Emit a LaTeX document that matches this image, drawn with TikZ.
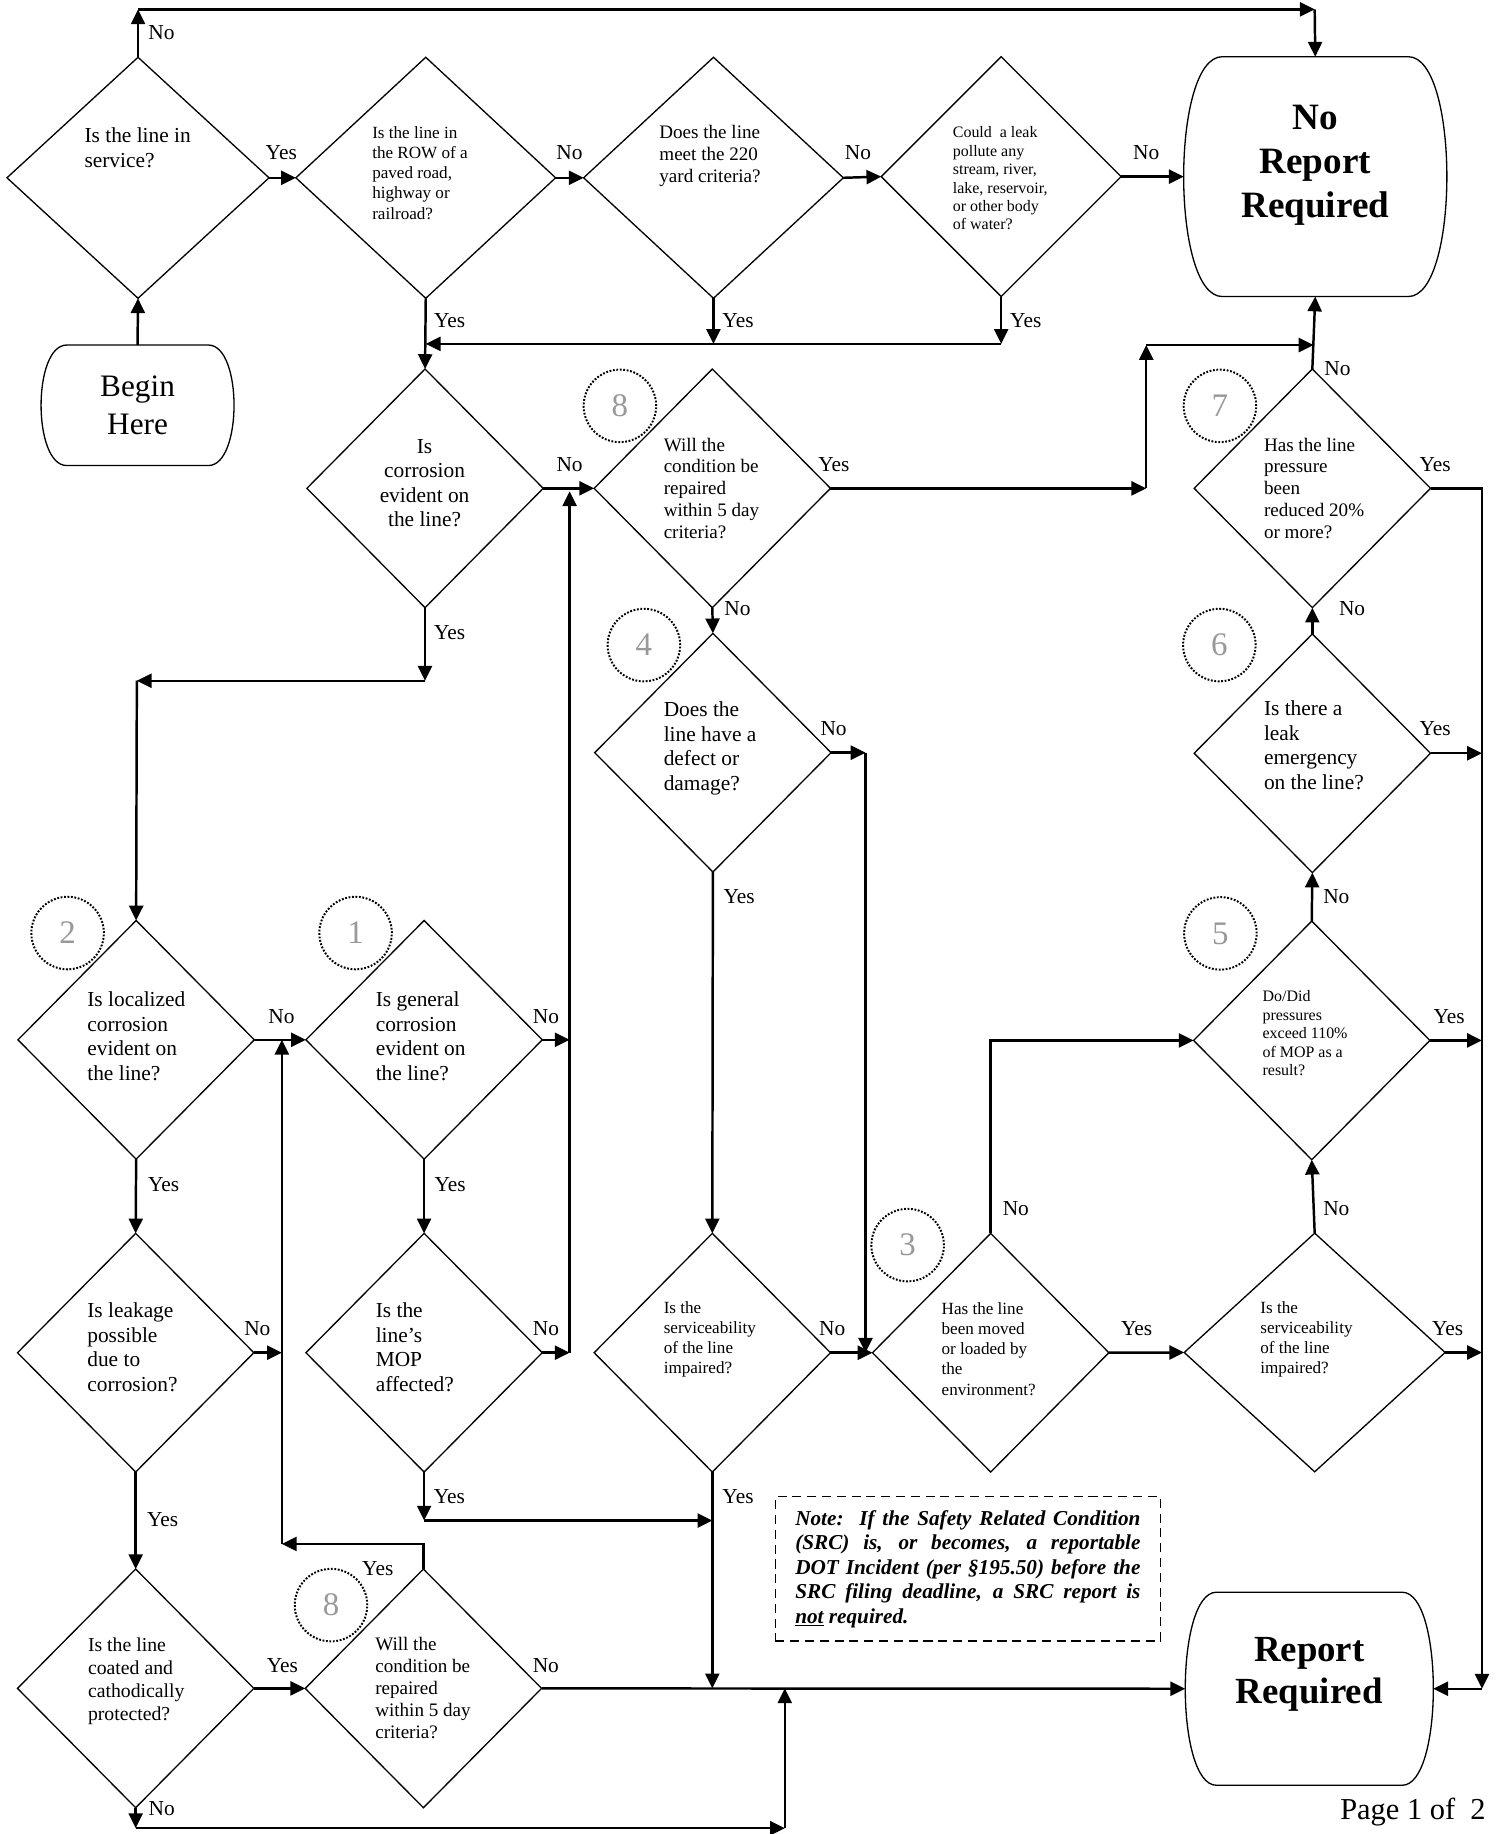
\documentclass[tikz,border=0pt]{standalone}
\usepackage{fontspec}
\setmainfont{Liberation Serif}
\usetikzlibrary{shapes.geometric,arrows.meta}

\begin{document}
\begin{tikzpicture}[x=0.025cm, y=-0.025cm,
    question/.style={diamond, draw, line width=0.8pt, inner sep=0pt, outer sep=0pt, minimum width=5.05cm, minimum height=5.1cm},
    terminal/.style={rectangle, inner sep=0pt, outer sep=0pt},
    outline/.style={line width=0.8pt},
    qtext/.style={anchor=west, align=left, inner sep=0pt},
    q13/.style={qtext, font=\fontsize{13}{14.9}\selectfont},
    q12/.style={qtext, font=\fontsize{12}{13.9}\selectfont},
    q11/.style={qtext, font=\fontsize{11.6}{13.3}\selectfont},
    q10/.style={qtext, font=\fontsize{10.4}{12.2}\selectfont},
    q9/.style={qtext, font=\fontsize{9.7}{11.2}\selectfont},
    answer/.style={inner sep=0pt, font=\fontsize{13}{15}\selectfont},
    big/.style={inner sep=0pt, align=center, font=\bfseries\fontsize{22.6}{26.7}\selectfont},
    circled/.style={circle, draw, line width=1.2pt, dash pattern=on 1.1pt off 1pt, minimum size=1.55cm, inner sep=0pt, text=black!40, font=\fontsize{20}{24}\selectfont},
    arr/.style={-{Triangle[length=9pt,width=8.5pt]}, line width=1.5pt}]

\useasboundingbox (0,0) rectangle (1280,1568);

\node[question, minimum width=5.6cm, minimum height=5.15cm] (service) at (118,152) {};
\node[q13] (service_t) at (72,126.5) {Is the line in\\service?};
\node[question, minimum width=5.55cm, minimum height=5.15cm] (row) at (364,152) {};
\node[q10] (row_t) at (318,148) {Is the line in\\the ROW of a\\paved road,\\highway or\\railroad?};
\node[question, minimum width=5.55cm, minimum height=5.15cm] (yard) at (610,152) {};
\node[q11] (yard_t) at (563.5,133) {Does the line\\meet the 220\\yard criteria?};
\node[question, minimum width=5.125cm, minimum height=5.125cm] (water) at (856,151) {};
\node[q9] (water_t) at (814.4,152.5) {Could\ \ a leak\\pollute any\\stream, river,\\lake, reservoir,\\or other body\\of water?};
\node[terminal, minimum width=5.625cm, minimum height=5.125cm] (noreport) at (1124.5,151) {};
\draw[outline] ([xshift=0.825cm]noreport.north west) -- ([xshift=-0.825cm]noreport.north east)
  .. controls +(44,0) and +(44,0) .. ([xshift=-0.825cm]noreport.south east)
  -- ([xshift=0.825cm]noreport.south west)
  .. controls +(-44,0) and +(-44,0) .. cycle;
\node[big] (noreport_t) at (1124.5,141) {No\\Report\\Required};
\node[terminal, minimum width=4.125cm, minimum height=2.575cm, align=center, font=\fontsize{19}{22.8}\selectfont] (begin) at (117.6,346.5) {Begin\\Here};
\draw[outline] ([xshift=0.55cm]begin.north west) -- ([xshift=-0.55cm]begin.north east)
  .. controls +(29.3,0) and +(29.3,0) .. ([xshift=-0.55cm]begin.south east)
  -- ([xshift=0.55cm]begin.south west)
  .. controls +(-29.3,0) and +(-29.3,0) .. cycle;

\node[question] (corrosion) at (363.4,417.5) {};
\node[q13, anchor=center, align=center] (corrosion_t) at (363,413) {Is\\corrosion\\evident on\\the line?};
\node[question] (repair) at (609,417.5) {};
\node[q11] (repair_t) at (567.2,417.5) {Will the\\condition be\\repaired\\within 5 day\\criteria?};
\node[question] (pressure) at (1122,417.5) {};
\node[q11] (pressure_t) at (1080.4,417.5) {Has the line\\pressure\\been\\reduced 20\%\\or more?};

\node[question] (defect) at (609.5,643.5) {};
\node[q13] (defect_t) at (567.2,640) {Does the\\line have a\\defect or\\damage?};
\node[question] (emergency) at (1122,644) {};
\node[q13] (emergency_t) at (1080.4,637) {Is there a\\leak\\emergency\\on the line?};

\node[question] (localized) at (116.4,889) {};
\node[q13] (localized_t) at (74.4,886) {Is localized\\corrosion\\evident on\\the line?};
\node[question] (general) at (362.6,889) {};
\node[q13] (general_t) at (321,886) {Is general\\corrosion\\evident on\\the line?};
\node[question] (exceed) at (1121.5,889.5) {};
\node[q9] (exceed_t) at (1079.2,883.5) {Do/Did\\pressures\\exceed 110\%\\of MOP as a\\result?};

\node[question] (leakage) at (116,1156.5) {};
\node[q13] (leakage_t) at (74.4,1152) {Is leakage\\possible\\due to\\corrosion?};
\node[question] (mop) at (362.6,1156.5) {};
\node[q13] (mop_t) at (321,1152) {Is the\\line’s\\MOP\\affected?};
\node[question] (impaired) at (609,1156.5) {};
\node[q10] (impaired_t) at (567.2,1145) {Is the\\serviceability\\of the line\\impaired?};
\node[question] (moved) at (847,1156.5) {};
\node[q10] (moved_t) at (804.8,1153.4) {Has the line\\been moved\\or loaded by\\the\\environment?};
\node[question, minimum width=5.575cm] (impaired_2) at (1124,1156.3) {};
\node[q10] (impaired_2_t) at (1077.3,1145) {Is the\\serviceability\\of the line\\impaired?};

\node[question] (coated) at (116,1443.5) {};
\node[q12] (coated_t) at (75,1437.5) {Is the line\\coated and\\cathodically\\protected?};
\node[question] (repair_2) at (362,1443.5) {};
\node[q11] (repair_2_t) at (320.6,1443) {Will the\\condition be\\repaired\\within 5 day\\criteria?};
\node[terminal, minimum width=5.3cm, minimum height=4.125cm] (report) at (1119.4,1443.8) {};
\draw[outline] ([xshift=0.665cm]report.north west) -- ([xshift=-0.665cm]report.north east)
  .. controls +(35.5,0) and +(35.5,0) .. ([xshift=-0.665cm]report.south east)
  -- ([xshift=0.665cm]report.south west)
  .. controls +(-35.5,0) and +(-35.5,0) .. cycle;
\node[big, font=\bfseries\fontsize{22.4}{25.6}\selectfont] (report_t) at (1119.4,1431.4) {Report\\Required};

\node[draw, line width=0.9pt, dash pattern=on 5.5pt off 3.5pt, text width=7.375cm, inner xsep=0.425cm, inner ysep=0pt, minimum height=3.085cm, align=justify, font=\bfseries\itshape\fontsize{12.9}{14.9}\selectfont] (note) at (827.5,1341.3) {Note:\ \ If the Safety Related Condition\linebreak (SRC) is, or becomes, a reportable\linebreak DOT Incident (per §195.50) before the\linebreak SRC filing deadline, a SRC report is\linebreak \underline{not} required.};
\node[inner sep=0pt, font=\fontsize{18.5}{22}\selectfont] (page) at (1208,1549) {Page 1 of\ \ 2};

\node[circled] (n8) at (530,347) {8};
\node[circled] (n7) at (1043,347) {7};
\node[circled] (n4) at (550.5,551.5) {4};
\node[circled] (n6) at (1042.5,551.5) {6};
\node[circled] (n2) at (57.8,797.7) {2};
\node[circled] (n1) at (304,797.7) {1};
\node[circled] (n5) at (1043.4,798) {5};
\node[circled] (n3) at (776,1064.5) {3};
\node[circled] (n8b) at (283,1372.3) {8};

\coordinate (top_l) at (118,8);
\coordinate (top_r) at (1124,8);
\coordinate (row_s) at (364,294);
\coordinate (yard_s) at (610,294);
\coordinate (water_s) at (856,294);
\coordinate (rep_in) at (487,420);
\coordinate (gen_e) at (487,889);
\coordinate (mop_e) at (487,1156.5);
\coordinate (corr_s) at (363.4,582);
\coordinate (loc_n) at (117,582);
\coordinate (rep_e) at (980,417.5);
\coordinate (rep_up) at (980,295);
\coordinate (pres_n) at (1123,295);
\coordinate (def_e) at (740,643.5);
\coordinate (def_dn) at (740,1156.5);
\coordinate (imp_s) at (609,1443.5);
\coordinate (mop_s) at (362.6,1300);
\coordinate (imp_w) at (609,1300);
\coordinate (rep2_n) at (362,1320);
\coordinate (byp_s) at (241,1320);
\coordinate (byp_n) at (241,889);
\coordinate (leak_e) at (241,1156.5);
\coordinate (coat_s) at (116,1563);
\coordinate (bot_r) at (671,1563);
\coordinate (bot_up) at (671,1443.5);
\coordinate (moved_up) at (847,889.5);
\coordinate (right_t) at (1267,417.5);
\coordinate (right_b) at (1267,1443.8);
\coordinate (em_e) at (1267,644);
\coordinate (ex_e) at (1267,889.5);
\coordinate (imp2_e) at (1267,1156.3);

\draw[arr] (begin.north) -- (service.south);
\draw[arr] (service.north) -- (top_l);
\draw[arr] (top_l) -- (top_r);
\draw[arr] (top_r) -- (noreport.north);
\draw[arr] (service.east) -- (row.west);
\draw[arr] (row.east) -- (yard.west);
\draw[arr] (yard.east) -- (water.west);
\draw[arr] (water.east) -- (noreport.west);
\draw[arr] (row.south) -- (corrosion.north);
\draw[arr] (yard.south) -- (yard_s);
\draw[arr] (water.south) -- (water_s);
\draw[arr] (water_s) -- (row_s);
\draw[arr] (corrosion.east) -- (repair.west);
\draw[arr] (general.east) -- (gen_e);
\draw[arr] (mop.east) -- (mop_e);
\draw[arr] (mop_e) -- (rep_in);
\draw[arr] (corrosion.south) -- (corr_s);
\draw[arr] (corr_s) -- (loc_n);
\draw[arr] (loc_n) -- (localized.north);
\draw[arr] (repair.east) -- (rep_e);
\draw[arr] (rep_e) -- (rep_up);
\draw[arr] (rep_up) -- (pres_n);
\draw[arr] (pressure.north) -- (noreport.south);
\draw[arr] (repair.south) -- (defect.north);
\draw[arr] (defect.east) -- (def_e);
\draw[arr] (def_e) -- (def_dn);
\draw[arr] (defect.south) -- (impaired.north);
\draw[arr] (impaired.east) -- (moved.west);
\draw[arr] (impaired.south) -- (imp_s);
\draw[arr] (mop.south) -- (mop_s);
\draw[arr] (mop_s) -- (imp_w);
\draw[arr] (repair_2.north) -- (rep2_n) -- (byp_s);
\draw[arr] (byp_s) -- (byp_n);
\draw[arr] (localized.east) -- (general.west);
\draw[arr] (leakage.east) -- (leak_e);
\draw[arr] (localized.south) -- (leakage.north);
\draw[arr] (general.south) -- (mop.north);
\draw[arr] (leakage.south) -- (coated.north);
\draw[arr] (coated.east) -- (repair_2.west);
\draw[arr] (repair_2.east) -- (report.west);
\draw[arr] (coated.south) -- (coat_s);
\draw[arr] (coat_s) -- (bot_r);
\draw[arr] (bot_r) -- (bot_up);
\draw[arr] (moved.east) -- (impaired_2.west);
\draw[arr] (moved.north) -- (moved_up) -- (exceed.west);
\draw[arr] (impaired_2.north) -- (exceed.south);
\draw[arr] (exceed.north) -- (emergency.south);
\draw[arr] (emergency.north) -- (pressure.south);
\draw[arr] (pressure.east) -- (right_t) -- (right_b);
\draw[arr] (right_b) -- (report.east);
\draw[arr] (emergency.east) -- (em_e);
\draw[arr] (exceed.east) -- (ex_e);
\draw[arr] (impaired_2.east) -- (imp2_e);

\node[answer] (service_no) at (138,28) {No};
\node[answer] (service_yes) at (240.5,130.4) {Yes};
\node[answer] (row_no) at (486.8,130.4) {No};
\node[answer] (yard_no) at (733.5,130.4) {No};
\node[answer] (water_no) at (980,130.4) {No};
\node[answer] (row_yes) at (384.5,274) {Yes};
\node[answer] (yard_yes) at (631,274) {Yes};
\node[answer] (water_yes) at (877,274) {Yes};
\node[answer] (pressure_no) at (1143.5,315.5) {No};
\node[answer] (corrosion_no) at (487,397.5) {No};
\node[answer] (repair_yes) at (713,397.5) {Yes};
\node[answer] (pressure_yes) at (1227,397.5) {Yes};
\node[answer] (repair_no) at (630.5,520) {No};
\node[answer] (emergency_no) at (1156,520) {No};
\node[answer] (corrosion_yes) at (384.5,540.6) {Yes};
\node[answer] (defect_no) at (712.7,623) {No};
\node[answer] (emergency_yes) at (1227,623) {Yes};
\node[answer] (defect_yes) at (632,766.6) {Yes};
\node[answer] (exceed_no) at (1142.5,766.6) {No};
\node[answer] (localized_no) at (240.6,869) {No};
\node[answer] (general_no) at (466.8,869) {No};
\node[answer] (exceed_yes) at (1239,869) {Yes};
\node[answer] (localized_yes) at (140,1013) {Yes};
\node[answer] (general_yes) at (384.8,1013) {Yes};
\node[answer] (moved_no) at (868.5,1033.7) {No};
\node[answer] (impaired_2_no) at (1142.5,1033.7) {No};
\node[answer] (leakage_no) at (220,1136) {No};
\node[answer] (mop_no) at (466.8,1136) {No};
\node[answer] (impaired_no) at (711.5,1136) {No};
\node[answer] (moved_yes) at (971.8,1136) {Yes};
\node[answer] (impaired_2_yes) at (1237.6,1135.7) {Yes};
\node[answer] (mop_yes) at (384.3,1279.6) {Yes};
\node[answer] (impaired_yes) at (631,1279.6) {Yes};
\node[answer] (leakage_yes) at (139,1299.6) {Yes};
\node[answer] (repair_2_yes) at (323,1341.5) {Yes};
\node[answer] (coated_yes) at (241.5,1423.6) {Yes};
\node[answer] (repair_2_no) at (466.7,1423.6) {No};
\node[answer] (coated_no) at (138.3,1546.4) {No};
\end{tikzpicture}
\end{document}
